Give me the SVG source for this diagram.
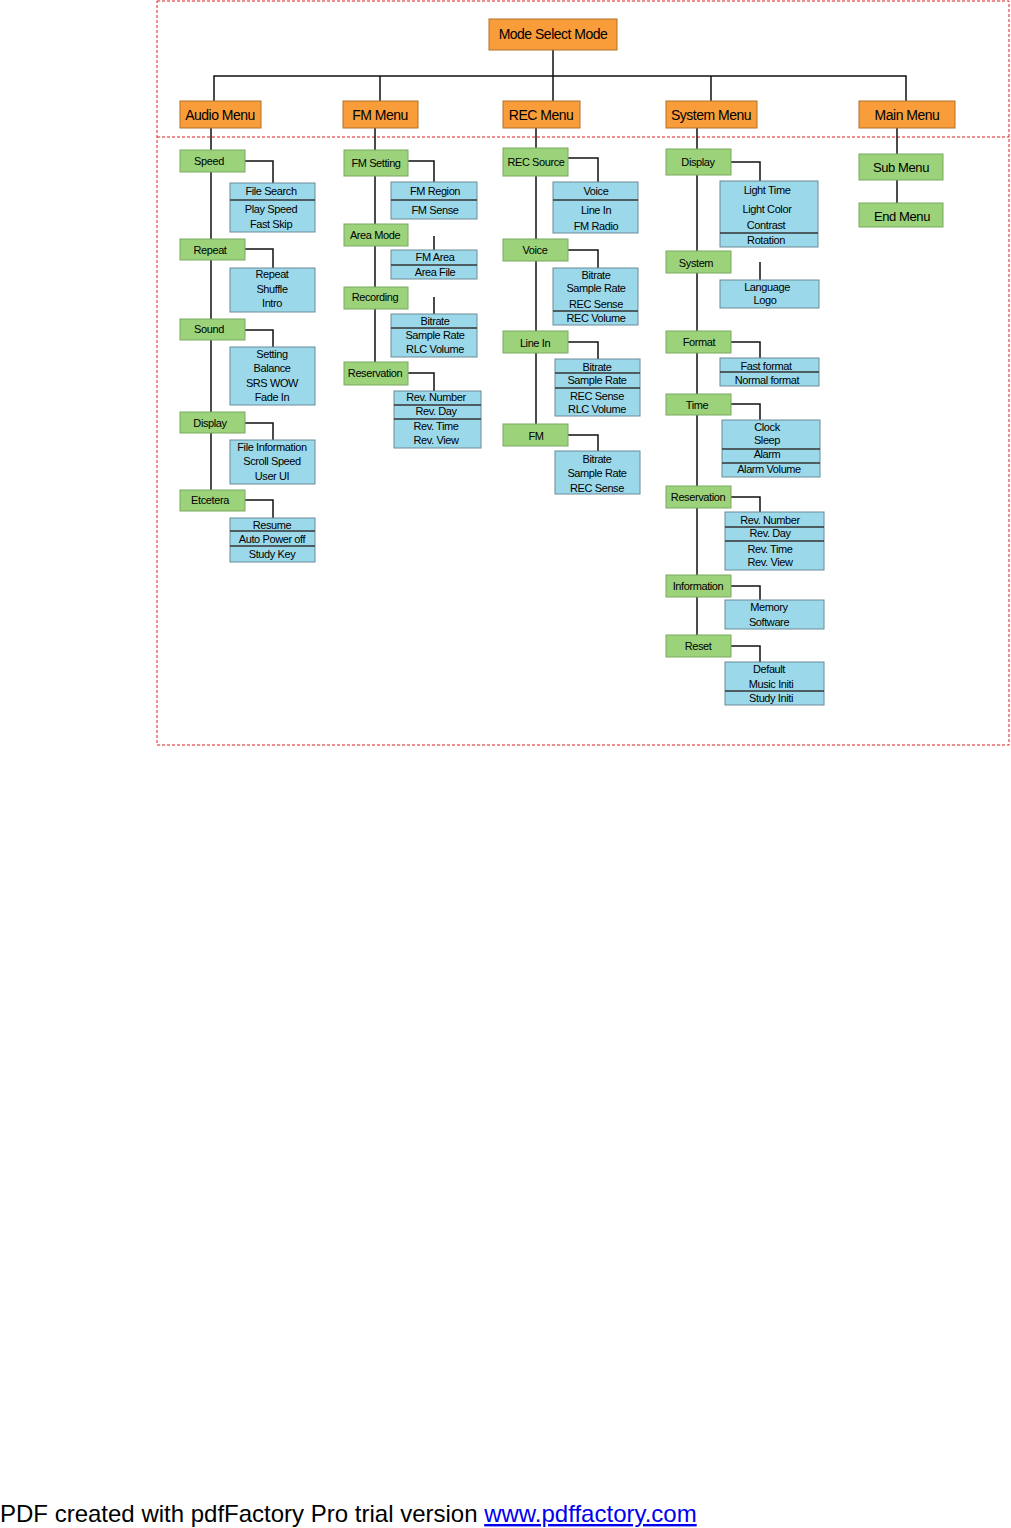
<svg xmlns="http://www.w3.org/2000/svg" width="1011" height="1528" viewBox="0 0 1011 1528">
<style>
text{font-family:"Liberation Sans",Arial,sans-serif;fill:#000;text-anchor:middle}
.o{fill:#f99c3a;stroke:#b0702a;stroke-width:1}
.g{fill:#9bd27a;stroke:#7aa860;stroke-width:1}
.b{fill:#9bd9ea;stroke:#6a8a96;stroke-width:1}
.d{stroke:#333;stroke-width:1.3}
.h{font-size:14px;letter-spacing:-0.5px}
.t{font-size:11px;letter-spacing:-0.4px}
.c{fill:none;stroke:#111;stroke-width:1.5}
</style>
<rect x="157" y="1" width="852" height="744" fill="none" stroke="#e02020" stroke-dasharray="3,2"/>
<line x1="157" y1="137" x2="1009" y2="137" stroke="#e02020" stroke-dasharray="3,2"/>
<g id="connectors" class="c">
<path d="M553 50V101M214 101V76H906V101M380 76V101M711 76V101"/>
<path d="M211 128V490M375 128V362M536 128V424M697 128V635M897 128V203"/>
<path d="M245 161H273V183M245 249H273V268M245 330H273V347M245 423H273V440M245 500H273V518"/>
<path d="M408 161H434V182M434 236V250M434 297V314M408 373H434V391"/>
<path d="M568 158H598V182M568 250H598V268M568 342H598V359M568 435H598V451"/>
<path d="M731 162H760V181M760 262V280M731 342H760V358M731 404H760V420M731 497H760V512M731 586H760V600M731 646H760V662"/>
</g>
<g id="n-mode"><rect class="o" x="489" y="19" width="128" height="31"/><text class="h" x="553" y="39">Mode Select Mode</text></g>
<g id="n-audio"><rect class="o" x="180" y="101" width="81" height="27"/><text class="h" x="220" y="120">Audio Menu</text></g>
<g id="n-fm"><rect class="o" x="343" y="101" width="75" height="27"/><text class="h" x="380" y="120">FM Menu</text></g>
<g id="n-rec"><rect class="o" x="503" y="101" width="77" height="27"/><text class="h" x="541" y="120">REC Menu</text></g>
<g id="n-sys"><rect class="o" x="666" y="101" width="91" height="27"/><text class="h" x="711" y="120">System Menu</text></g>
<g id="n-main"><rect class="o" x="859" y="101" width="96" height="27"/><text class="h" x="907" y="120">Main Menu</text></g>

<g id="a1"><rect class="g" x="180" y="150" width="65" height="22"/><text class="t" x="209" y="165">Speed</text></g>
<g id="a1b"><rect class="b" x="230" y="183" width="85" height="49"/><line class="d" x1="230" y1="200" x2="315" y2="200"/><text class="t" x="271" y="195">File Search</text><text class="t" x="271" y="213">Play Speed</text><text class="t" x="271" y="228">Fast Skip</text></g>
<g id="a2"><rect class="g" x="180" y="239" width="65" height="21"/><text class="t" x="210" y="254">Repeat</text></g>
<g id="a2b"><rect class="b" x="230" y="268" width="85" height="44"/><text class="t" x="272" y="278">Repeat</text><text class="t" x="272" y="293">Shuffle</text><text class="t" x="272" y="307">Intro</text></g>
<g id="a3"><rect class="g" x="180" y="319" width="65" height="21"/><text class="t" x="209" y="333">Sound</text></g>
<g id="a3b"><rect class="b" x="230" y="347" width="85" height="58"/><text class="t" x="272" y="358">Setting</text><text class="t" x="272" y="372">Balance</text><text class="t" x="272" y="387">SRS WOW</text><text class="t" x="272" y="401">Fade In</text></g>
<g id="a4"><rect class="g" x="180" y="412" width="65" height="21"/><text class="t" x="210" y="427">Display</text></g>
<g id="a4b"><rect class="b" x="230" y="440" width="85" height="44"/><text class="t" x="272" y="451">File Information</text><text class="t" x="272" y="465">Scroll Speed</text><text class="t" x="272" y="480">User UI</text></g>
<g id="a5"><rect class="g" x="180" y="490" width="65" height="21"/><text class="t" x="210" y="504">Etcetera</text></g>
<g id="a5b"><rect class="b" x="230" y="518" width="85" height="44"/><line class="d" x1="230" y1="531" x2="315" y2="531"/><line class="d" x1="230" y1="546" x2="315" y2="546"/><text class="t" x="272" y="529">Resume</text><text class="t" x="272" y="543">Auto Power off</text><text class="t" x="272" y="558">Study Key</text></g>

<g id="f1"><rect class="g" x="344" y="150" width="64" height="26"/><text class="t" x="376" y="167">FM Setting</text></g>
<g id="f1b"><rect class="b" x="391" y="182" width="86" height="37"/><line class="d" x1="391" y1="200" x2="477" y2="200"/><text class="t" x="435" y="195">FM Region</text><text class="t" x="435" y="214">FM Sense</text></g>
<g id="f2"><rect class="g" x="344" y="224" width="64" height="22"/><text class="t" x="375" y="239">Area Mode</text></g>
<g id="f2b"><rect class="b" x="391" y="250" width="86" height="29"/><line class="d" x1="391" y1="265" x2="477" y2="265"/><text class="t" x="435" y="261">FM Area</text><text class="t" x="435" y="276">Area File</text></g>
<g id="f3"><rect class="g" x="344" y="287" width="64" height="22"/><text class="t" x="375" y="301">Recording</text></g>
<g id="f3b"><rect class="b" x="391" y="314" width="86" height="43"/><line class="d" x1="391" y1="328" x2="477" y2="328"/><text class="t" x="435" y="325">Bitrate</text><text class="t" x="435" y="339">Sample Rate</text><text class="t" x="435" y="353">RLC Volume</text></g>
<g id="f4"><rect class="g" x="344" y="362" width="64" height="23"/><text class="t" x="375" y="377">Reservation</text></g>
<g id="f4b"><rect class="b" x="394" y="391" width="87" height="57"/><line class="d" x1="394" y1="405" x2="481" y2="405"/><line class="d" x1="394" y1="419" x2="481" y2="419"/><text class="t" x="436" y="401">Rev. Number</text><text class="t" x="436" y="415">Rev. Day</text><text class="t" x="436" y="430">Rev. Time</text><text class="t" x="436" y="444">Rev. View</text></g>

<g id="r1"><rect class="g" x="503" y="148" width="65" height="28"/><text class="t" x="536" y="166">REC Source</text></g>
<g id="r1b"><rect class="b" x="553" y="182" width="85" height="51"/><line class="d" x1="553" y1="200" x2="638" y2="200"/><text class="t" x="596" y="195">Voice</text><text class="t" x="596" y="214">Line In</text><text class="t" x="596" y="230">FM Radio</text></g>
<g id="r2"><rect class="g" x="503" y="239" width="65" height="22"/><text class="t" x="535" y="254">Voice</text></g>
<g id="r2b"><rect class="b" x="553" y="268" width="85" height="57"/><line class="d" x1="553" y1="311" x2="638" y2="311"/><text class="t" x="596" y="279">Bitrate</text><text class="t" x="596" y="292">Sample Rate</text><text class="t" x="596" y="308">REC Sense</text><text class="t" x="596" y="322">REC Volume</text></g>
<g id="r3"><rect class="g" x="503" y="331" width="65" height="22"/><text class="t" x="535" y="347">Line In</text></g>
<g id="r3b"><rect class="b" x="555" y="359" width="85" height="57"/><line class="d" x1="555" y1="373" x2="640" y2="373"/><line class="d" x1="555" y1="388" x2="640" y2="388"/><text class="t" x="597" y="371">Bitrate</text><text class="t" x="597" y="384">Sample Rate</text><text class="t" x="597" y="400">REC Sense</text><text class="t" x="597" y="413">RLC Volume</text></g>
<g id="r4"><rect class="g" x="503" y="424" width="65" height="22"/><text class="t" x="536" y="440">FM</text></g>
<g id="r4b"><rect class="b" x="555" y="451" width="85" height="43"/><text class="t" x="597" y="463">Bitrate</text><text class="t" x="597" y="477">Sample Rate</text><text class="t" x="597" y="492">REC Sense</text></g>

<g id="s1"><rect class="g" x="666" y="149" width="65" height="26"/><text class="t" x="698" y="166">Display</text></g>
<g id="s1b"><rect class="b" x="720" y="181" width="98" height="66"/><line class="d" x1="720" y1="233" x2="818" y2="233"/><text class="t" x="767" y="194">Light Time</text><text class="t" x="767" y="213">Light Color</text><text class="t" x="766" y="229">Contrast</text><text class="t" x="766" y="244">Rotation</text></g>
<g id="s2"><rect class="g" x="666" y="251" width="65" height="22"/><text class="t" x="696" y="267">System</text></g>
<g id="s2b"><rect class="b" x="720" y="280" width="99" height="28"/><text class="t" x="767" y="291">Language</text><text class="t" x="765" y="304">Logo</text></g>
<g id="s3"><rect class="g" x="666" y="331" width="65" height="22"/><text class="t" x="699" y="346">Format</text></g>
<g id="s3b"><rect class="b" x="720" y="358" width="99" height="28"/><line class="d" x1="720" y1="372" x2="819" y2="372"/><text class="t" x="766" y="370">Fast format</text><text class="t" x="767" y="384">Normal format</text></g>
<g id="s4"><rect class="g" x="666" y="394" width="65" height="21"/><text class="t" x="697" y="409">Time</text></g>
<g id="s4b"><rect class="b" x="722" y="420" width="98" height="57"/><line class="d" x1="722" y1="449" x2="820" y2="449"/><line class="d" x1="722" y1="463" x2="820" y2="463"/><text class="t" x="767" y="431">Clock</text><text class="t" x="767" y="444">Sleep</text><text class="t" x="767" y="458">Alarm</text><text class="t" x="769" y="473">Alarm Volume</text></g>
<g id="s5"><rect class="g" x="666" y="486" width="65" height="22"/><text class="t" x="698" y="501">Reservation</text></g>
<g id="s5b"><rect class="b" x="725" y="512" width="99" height="58"/><line class="d" x1="725" y1="527" x2="824" y2="527"/><line class="d" x1="725" y1="541" x2="824" y2="541"/><text class="t" x="770" y="524">Rev. Number</text><text class="t" x="770" y="537">Rev. Day</text><text class="t" x="770" y="553">Rev. Time</text><text class="t" x="770" y="566">Rev. View</text></g>
<g id="s6"><rect class="g" x="666" y="575" width="65" height="22"/><text class="t" x="698" y="590">Information</text></g>
<g id="s6b"><rect class="b" x="725" y="600" width="99" height="29"/><text class="t" x="769" y="611">Memory</text><text class="t" x="769" y="626">Software</text></g>
<g id="s7"><rect class="g" x="666" y="635" width="65" height="22"/><text class="t" x="698" y="650">Reset</text></g>
<g id="s7b"><rect class="b" x="725" y="662" width="99" height="43"/><line class="d" x1="725" y1="691" x2="824" y2="691"/><text class="t" x="769" y="673">Default</text><text class="t" x="771" y="688">Music Initi</text><text class="t" x="771" y="702">Study Initi</text></g>

<g id="m1"><rect class="g" x="859" y="154" width="84" height="26"/><text class="t" x="901" y="172" style="font-size:13px">Sub Menu</text></g>
<g id="m2"><rect class="g" x="859" y="203" width="84" height="24"/><text class="t" x="902" y="221" style="font-size:13px">End Menu</text></g>

<text x="0" y="1522" style="text-anchor:start;font-size:24px">PDF created with pdfFactory Pro trial version <tspan fill="#0000ee" text-decoration="underline">www.pdffactory.com</tspan></text>
</svg>
